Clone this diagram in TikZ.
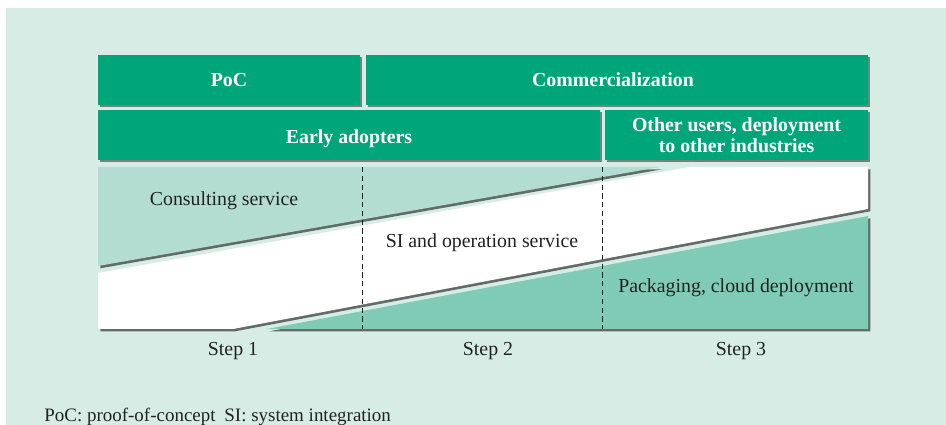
\documentclass[tikz,border=0pt]{standalone}
\usepackage{fontspec}
\setmainfont{Liberation Serif}
\usetikzlibrary{shadows}
\definecolor{bgmint}{HTML}{D7ECE5}
\definecolor{hdrgreen}{HTML}{00A67A}
\definecolor{lightg}{HTML}{B3DDD0}
\definecolor{midg}{HTML}{80CBB5}
\definecolor{txt}{HTML}{222222}
\begin{document}
\begin{tikzpicture}[x=0.02cm,y=-0.02cm,
  hdr/.style={fill=hdrgreen, minimum height=1cm, inner sep=0pt,
    drop shadow={shadow xshift=1.3pt, shadow yshift=-1.3pt, opacity=0.45, fill=black}},
  hdrtext/.style={text=white, font=\fontsize{11.3}{12.5}\selectfont\bfseries, inner sep=0pt, anchor=base},
  shd/.style={drop shadow={shadow xshift=1.3pt, shadow yshift=-1.3pt, opacity=0.65, fill=black!85}},
  lbl/.style={font=\fontsize{11.3}{13}\selectfont, text=txt, inner sep=0pt, anchor=base},
  divider/.style={line width=0.5pt, dash pattern=on 3pt off 2pt, color=txt}]
\useasboundingbox (0,0) rectangle (946,425);
\fill[white] (0,0) rectangle (946,425);
\fill[bgmint] (6,8) rectangle (946,425);
% header boxes
\node[hdr, minimum width=5.24cm] (poc) at (229,80) {};
\node[hdr, minimum width=10.04cm] (comm) at (617,80) {};
\node[hdr, minimum width=10.04cm] (early) at (349,135) {};
\node[hdr, minimum width=5.26cm] (other) at (736.5,135) {};
\node[hdrtext] (poct) at (229,87) {PoC};
\node[hdrtext] (commt) at (613,87) {Commercialization};
\node[hdrtext] (earlyt) at (349,144) {Early adopters};
\node[hdrtext] (othert1) at (736.5,132) {Other users, deployment};
\node[hdrtext] (othert2) at (736.5,153) {to other industries};
% service bands
\fill[white, shd] (98,273) -- (690,167) -- (868,167) -- (868,209) -- (233,329) -- (98,329) -- cycle;
\fill[midg, shd] (267,329) -- (868,216) -- (868,329) -- cycle;
\fill[lightg, shd] (98,167) -- (660,167) -- (98,266) -- cycle;
% step dividers
\coordinate (d1t) at (362,167); \coordinate (d1b) at (362,329);
\coordinate (d2t) at (602,167); \coordinate (d2b) at (602,329);
\draw[divider] (d1t) -- (d1b);
\draw[divider] (d2t) -- (d2b);
% labels
\node[lbl] (cons) at (224,206) {Consulting service};
\node[lbl] (si) at (482,248) {SI and operation service};
\node[lbl] (pack) at (736,293) {Packaging, cloud deployment};
\node[lbl] (s1) at (233,356) {Step 1};
\node[lbl] (s2) at (488,356) {Step 2};
\node[lbl] (s3) at (741,356) {Step 3};
\node[lbl, anchor=base west, font=\fontsize{10.8}{12}\selectfont] (foot) at (44,421) {PoC: proof-of-concept\hspace{5pt}SI: system integration};
\end{tikzpicture}
\end{document}
